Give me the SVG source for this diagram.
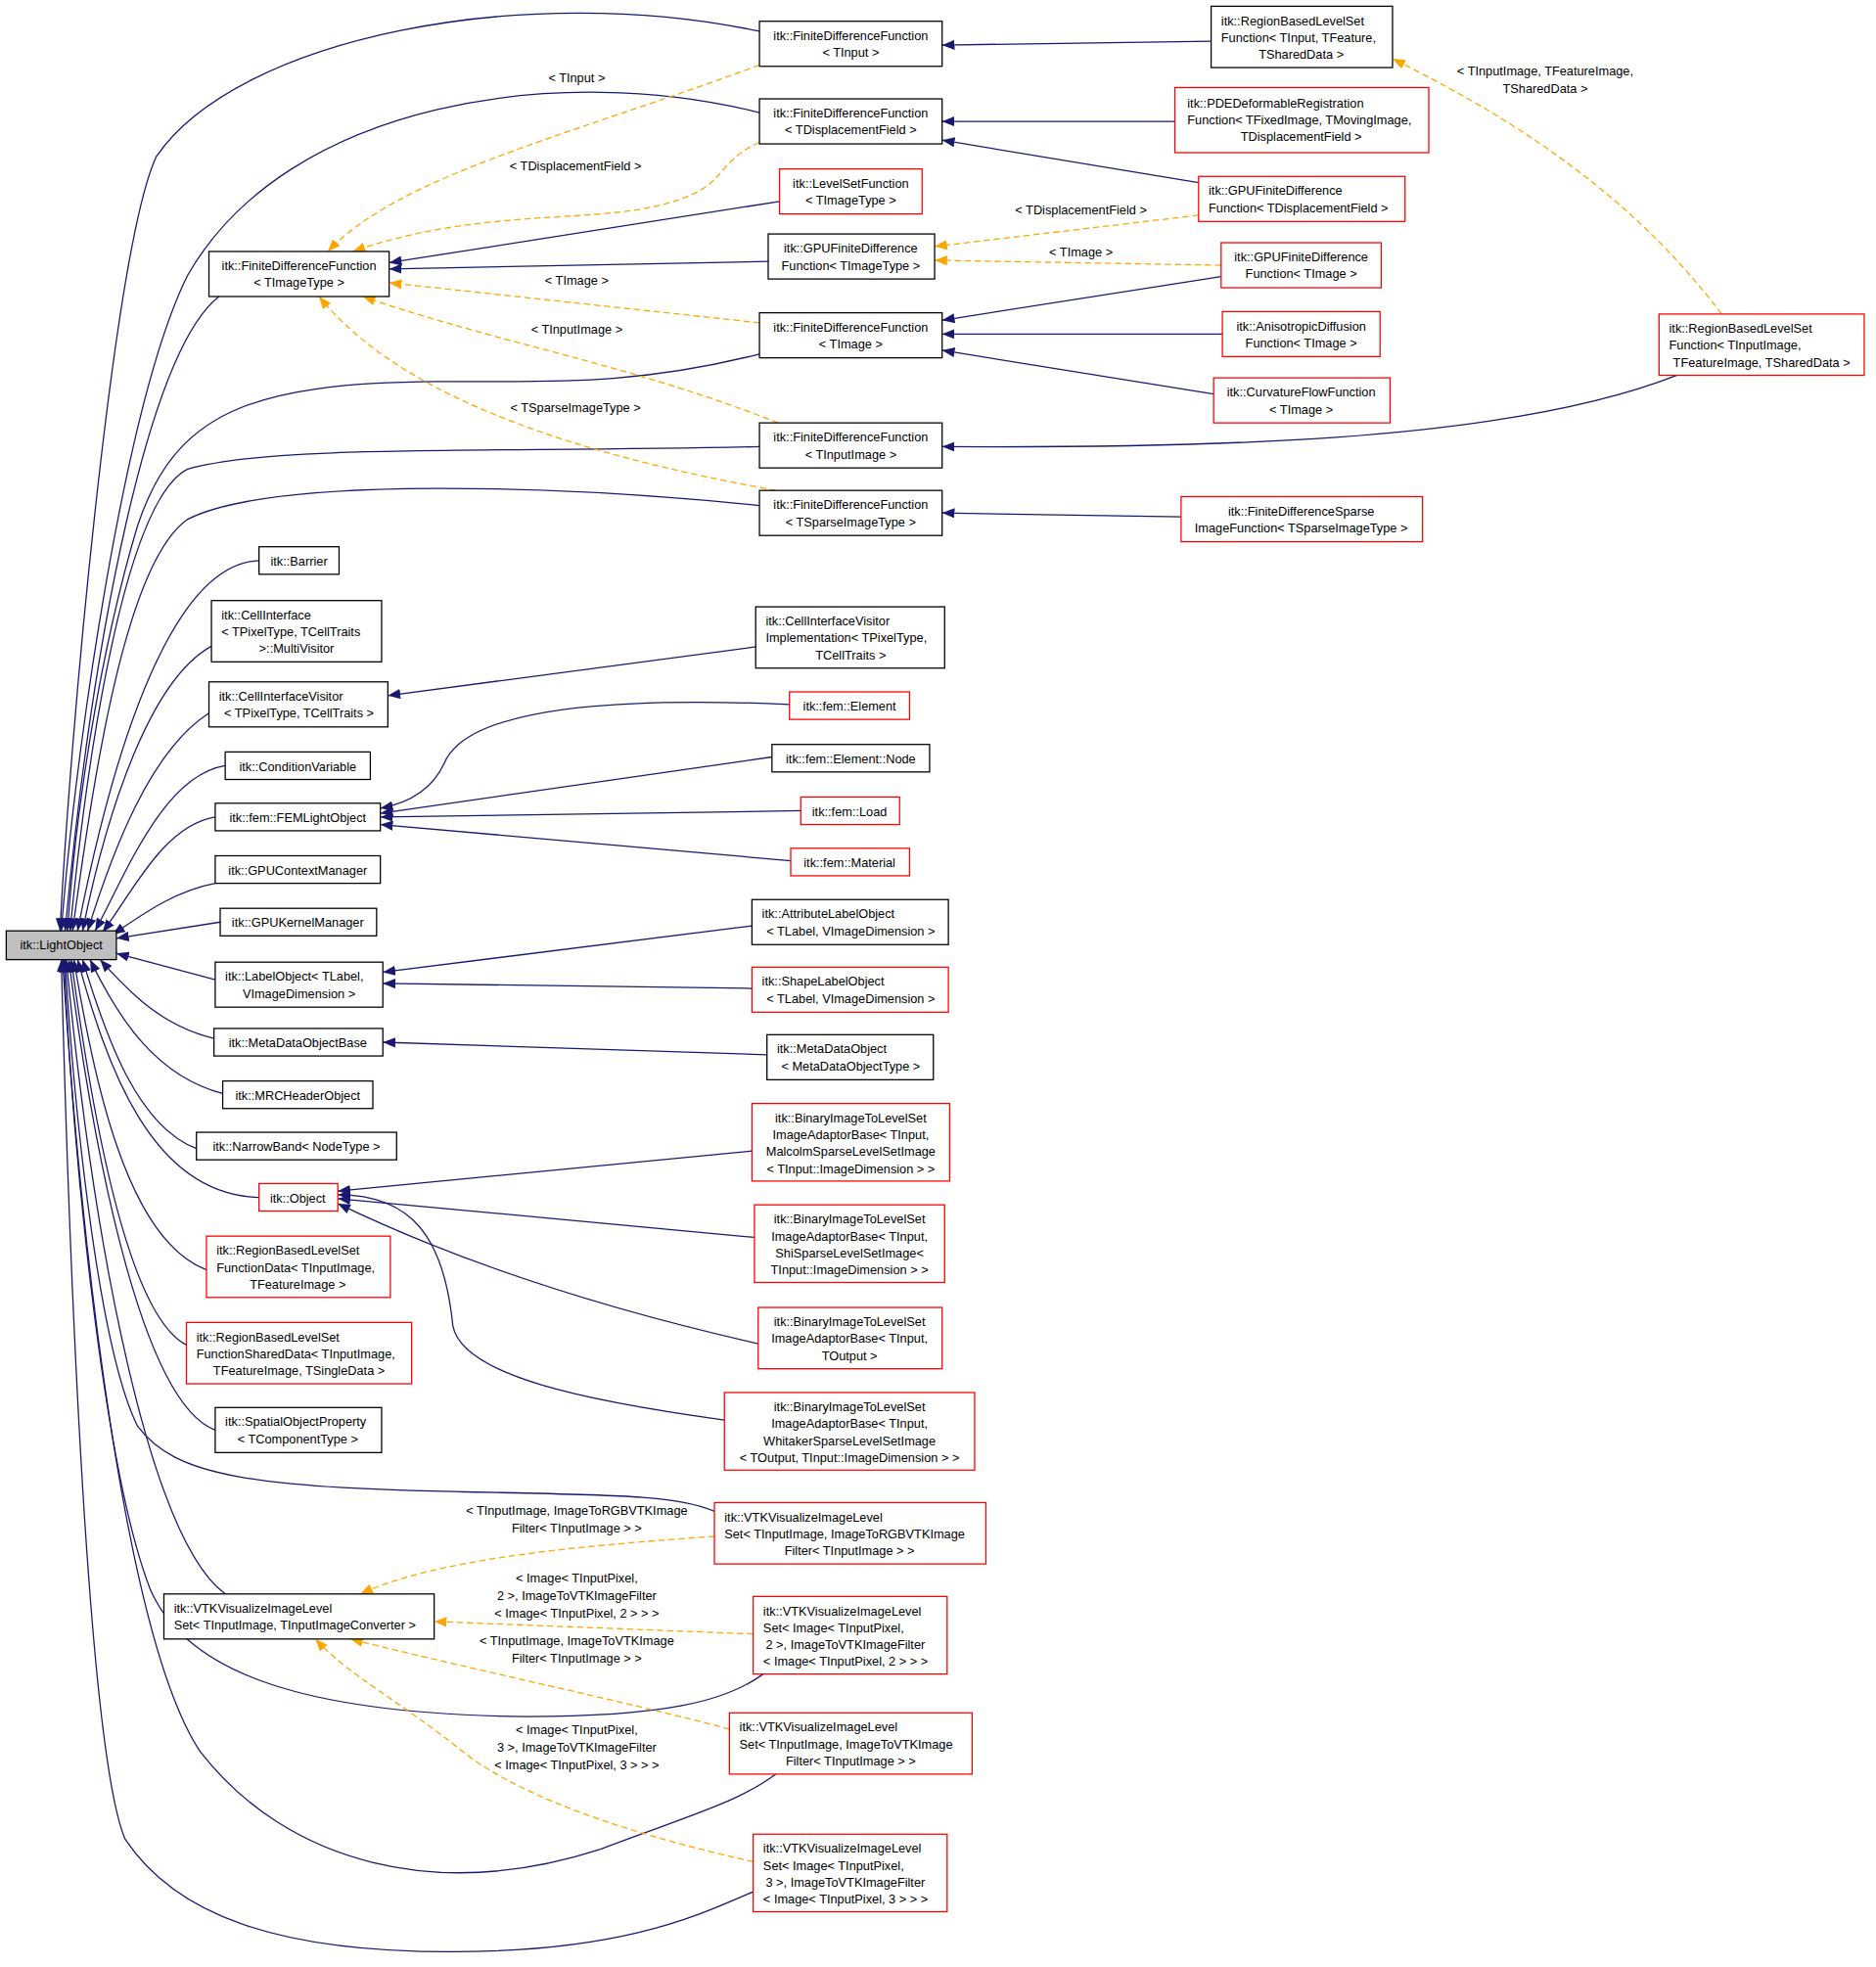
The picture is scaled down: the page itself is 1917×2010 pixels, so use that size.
<svg xmlns="http://www.w3.org/2000/svg" width="1917" height="2010" viewBox="0 0 1917 2010">
<style>
text{font-family:"Liberation Sans",Arial,sans-serif;font-size:10px;fill:#000}
.b{fill:#fff;stroke:#000;stroke-width:1}
.r{fill:#fff;stroke:#ff0000;stroke-width:1}
.g{fill:#bfbfbf;stroke:#000;stroke-width:1}
.e{fill:none;stroke:#191970;stroke-width:1}
.o{fill:none;stroke:#ffa500;stroke-width:1;stroke-dasharray:5,3}
.m{text-anchor:middle}
</style>
<defs>
<marker id="ab" viewBox="0 0 10 8" refX="10" refY="4" markerWidth="10" markerHeight="8" orient="auto" markerUnits="userSpaceOnUse"><path d="M0,0L10,4L0,8z" fill="#191970"/></marker>
<marker id="ao" viewBox="0 0 10 8" refX="10" refY="4" markerWidth="10" markerHeight="8" orient="auto" markerUnits="userSpaceOnUse"><path d="M0,0L10,4L0,8z" fill="#ffa500"/></marker>
</defs>
<rect width="1917" height="2010" fill="#fff"/>
<g transform="scale(1.2785)">
<g id="connectors">
<g marker-end="url(#ab)">
<path class="e" d="M607,25 C420,-15 190,30 125,125 C90,200 55,600 48,744"/>
<path class="e" d="M607,90 C450,50 230,80 150,220 C100,320 60,600 49,744"/>
<path class="e" d="M175,237 C120,280 75,500 52,744"/>
<path class="e" d="M607,283 C500,310 430,304 350,305 C200,306 140,330 110,420 C80,520 60,650 54,744"/>
<path class="e" d="M607,357 C400,362 220,355 150,375 C100,400 70,600 56,744"/>
<path class="e" d="M607,404 C450,388 220,380 150,415 C100,450 75,620 58,744"/>
<path class="e" d="M207,448 C150,450 100,550 62,744"/>
<path class="e" d="M172,515 C120,540 85,650 66,744"/>
<path class="e" d="M167,570 C120,600 90,680 70,744"/>
<path class="e" d="M180,612 C130,620 100,700 76,744"/>
<path class="e" d="M172,653 C130,660 105,715 82,745"/>
<path class="e" d="M172,706 C140,712 115,730 90,747"/>
<path class="e" d="M176,737 L93,750"/>
<path class="e" d="M172,783 L93,762"/>
<path class="e" d="M171,830 C130,820 105,795 80,767"/>
<path class="e" d="M178,874 C125,860 95,815 72,767"/>
<path class="e" d="M157,918 C110,900 85,830 66,767"/>
<path class="e" d="M207,957 C120,955 85,850 62,767"/>
<path class="e" d="M165,1015 C100,990 75,860 59,767"/>
<path class="e" d="M149,1075 C100,1050 72,880 57,767"/>
<path class="e" d="M172,1143 C110,1120 72,900 55,767"/>
<path class="e" d="M180,1274 C120,1230 75,1000 53,767"/>
<path class="e" d="M571,1208 C545,1196 500,1195 400,1193 C200,1190 140,1180 110,1140 C80,1080 60,900 52,767"/>
<path class="e" d="M610,1338 C580,1360 530,1372 420,1372 C250,1370 150,1340 120,1270 C85,1180 60,950 51,767"/>
<path class="e" d="M620,1418 C590,1440 560,1448 480,1478 C350,1520 230,1490 160,1400 C100,1310 65,1000 50,767"/>
<path class="e" d="M602,1512 C560,1530 500,1560 360,1560 C220,1560 140,1530 100,1470 C70,1400 55,1000 49,767"/>
<path class="e" d="M968,33 L753,36"/>
<path class="e" d="M939,97 L753,97"/>
<path class="e" d="M958,146 L753,112"/>
<path class="e" d="M623,161 L311,210"/>
<path class="e" d="M614,209 L311,215"/>
<path class="e" d="M976,221 L753,256"/>
<path class="e" d="M977,267 L753,267"/>
<path class="e" d="M970,315 L753,280"/>
<path class="e" d="M1340,300 C1200,355 950,358 753,357"/>
<path class="e" d="M944,413 L753,410"/>
<path class="e" d="M604,517 L310,556"/>
<path class="e" d="M631,563 C450,555 370,575 355,610 C345,632 325,642 304,646"/>
<path class="e" d="M617,605 L304,650"/>
<path class="e" d="M640,648 L304,653"/>
<path class="e" d="M632,688 L304,659"/>
<path class="e" d="M601,740 L306,777"/>
<path class="e" d="M601,790 L306,786"/>
<path class="e" d="M613,843 L306,833"/>
<path class="e" d="M601,920 L270,952"/>
<path class="e" d="M603,989 L270,958"/>
<path class="e" d="M606,1074 C500,1050 380,1015 270,962"/>
<path class="e" d="M579,1135 C470,1120 370,1100 362,1060 C355,990 330,955 270,955"/>
</g>
<g marker-end="url(#ao)">
<path class="o" d="M607,52 C450,110 320,140 262,201"/>
<path class="o" d="M607,114 C580,125 578,142 560,152 C500,185 400,160 282,201"/>
<path class="o" d="M607,258 L311,226"/>
<path class="o" d="M622,338 C500,290 400,275 290,237"/>
<path class="o" d="M620,392 C500,370 330,330 255,237"/>
<path class="o" d="M958,172 L747,197"/>
<path class="o" d="M976,212 L747,208"/>
<path class="o" d="M1376,251 C1300,150 1200,90 1113,47"/>
<path class="o" d="M571,1228 C470,1235 350,1245 288,1274"/>
<path class="o" d="M602,1306 L347,1296"/>
<path class="o" d="M583,1382 C500,1360 380,1335 280,1310"/>
<path class="o" d="M602,1488 C520,1470 420,1440 370,1400 C320,1360 280,1340 252,1310"/>
</g>
<text class="m" x="461" y="66">&lt; TInput &gt;</text>
<text class="m" x="460" y="136">&lt; TDisplacementField &gt;</text>
<text class="m" x="461" y="228">&lt; TImage &gt;</text>
<text class="m" x="461" y="267">&lt; TInputImage &gt;</text>
<text class="m" x="460" y="329">&lt; TSparseImageType &gt;</text>
<text class="m" x="864" y="171">&lt; TDisplacementField &gt;</text>
<text class="m" x="864" y="205">&lt; TImage &gt;</text>
<text class="m" x="1235" y="60">&lt; TInputImage, TFeatureImage,</text>
<text class="m" x="1235" y="74">TSharedData &gt;</text>
<text class="m" x="461" y="1211">&lt; TInputImage, ImageToRGBVTKImage</text>
<text class="m" x="461" y="1225">Filter&lt; TInputImage &gt; &gt;</text>
<text class="m" x="461" y="1265">&lt; Image&lt; TInputPixel,</text>
<text class="m" x="461" y="1279">2 &gt;, ImageToVTKImageFilter</text>
<text class="m" x="461" y="1293">&lt; Image&lt; TInputPixel, 2 &gt; &gt; &gt;</text>
<text class="m" x="461" y="1315">&lt; TInputImage, ImageToVTKImage</text>
<text class="m" x="461" y="1329">Filter&lt; TInputImage &gt; &gt;</text>
<text class="m" x="461" y="1386">&lt; Image&lt; TInputPixel,</text>
<text class="m" x="461" y="1400">3 &gt;, ImageToVTKImageFilter</text>
<text class="m" x="461" y="1414">&lt; Image&lt; TInputPixel, 3 &gt; &gt; &gt;</text>
</g>
<g id="LightObject"><rect class="g" x="5" y="744" width="88" height="23"/><text class="m" x="49" y="759">itk::LightObject</text></g>
<g id="FDF_TImageType"><rect class="b" x="167" y="201" width="144" height="36"/><text class="m" x="239" y="216">itk::FiniteDifferenceFunction</text><text class="m" x="239" y="229.5">&lt; TImageType &gt;</text></g>
<g id="FDF_TInput"><rect class="b" x="607" y="17" width="146" height="36"/><text class="m" x="680" y="32">itk::FiniteDifferenceFunction</text><text class="m" x="680" y="45.5">&lt; TInput &gt;</text></g>
<g id="FDF_TDisp"><rect class="b" x="607" y="79" width="146" height="36"/><text class="m" x="680" y="94">itk::FiniteDifferenceFunction</text><text class="m" x="680" y="107.5">&lt; TDisplacementField &gt;</text></g>
<g id="LevelSetFunction"><rect class="r" x="623" y="135" width="114" height="36"/><text class="m" x="680" y="150">itk::LevelSetFunction</text><text class="m" x="680" y="163.5">&lt; TImageType &gt;</text></g>
<g id="GPUFD_TImageType"><rect class="b" x="614" y="187" width="133" height="36"/><text class="m" x="680" y="202">itk::GPUFiniteDifference</text><text class="m" x="680" y="215.5">Function&lt; TImageType &gt;</text></g>
<g id="FDF_TImage"><rect class="b" x="607" y="250" width="146" height="36"/><text class="m" x="680" y="265">itk::FiniteDifferenceFunction</text><text class="m" x="680" y="278.5">&lt; TImage &gt;</text></g>
<g id="FDF_TInputImage"><rect class="b" x="607" y="338" width="146" height="36"/><text class="m" x="680" y="353">itk::FiniteDifferenceFunction</text><text class="m" x="680" y="366.5">&lt; TInputImage &gt;</text></g>
<g id="FDF_TSparse"><rect class="b" x="607" y="392" width="146" height="36"/><text class="m" x="680" y="407">itk::FiniteDifferenceFunction</text><text class="m" x="680" y="420.5">&lt; TSparseImageType &gt;</text></g>
<g id="RBLSF_TInput"><rect class="b" x="968" y="5" width="145" height="49"/><text x="976" y="20">itk::RegionBasedLevelSet</text><text x="976" y="33.5">Function&lt; TInput, TFeature,</text><text class="m" x="1040" y="47">TSharedData &gt;</text></g>
<g id="PDEDeformable"><rect class="r" x="939" y="70" width="203" height="52"/><text x="949" y="86">itk::PDEDeformableRegistration</text><text x="949" y="99.5">Function&lt; TFixedImage, TMovingImage,</text><text class="m" x="1040" y="113">TDisplacementField &gt;</text></g>
<g id="GPUFD_TDisp"><rect class="r" x="958" y="141" width="165" height="36"/><text x="966" y="156">itk::GPUFiniteDifference</text><text x="966" y="169.5">Function&lt; TDisplacementField &gt;</text></g>
<g id="GPUFD_TImage"><rect class="r" x="976" y="194" width="128" height="36"/><text class="m" x="1040" y="209">itk::GPUFiniteDifference</text><text class="m" x="1040" y="222.5">Function&lt; TImage &gt;</text></g>
<g id="Anisotropic"><rect class="r" x="977" y="249" width="126" height="36"/><text class="m" x="1040" y="264">itk::AnisotropicDiffusion</text><text class="m" x="1040" y="277.5">Function&lt; TImage &gt;</text></g>
<g id="CurvatureFlow"><rect class="r" x="970" y="302" width="141" height="36"/><text class="m" x="1040" y="317">itk::CurvatureFlowFunction</text><text class="m" x="1040" y="330.5">&lt; TImage &gt;</text></g>
<g id="RBLSF_TInputImage"><rect class="r" x="1326" y="251" width="164" height="49"/><text x="1334" y="266">itk::RegionBasedLevelSet</text><text x="1334" y="279.5">Function&lt; TInputImage,</text><text class="m" x="1408" y="293">TFeatureImage, TSharedData &gt;</text></g>
<g id="FDSparse"><rect class="r" x="944" y="397" width="193" height="36"/><text class="m" x="1040" y="412">itk::FiniteDifferenceSparse</text><text class="m" x="1040" y="425.5">ImageFunction&lt; TSparseImageType &gt;</text></g>
<g id="Barrier"><rect class="b" x="207" y="437" width="64" height="22"/><text class="m" x="239" y="452">itk::Barrier</text></g>
<g id="MultiVisitor"><rect class="b" x="169" y="480" width="136" height="49"/><text x="177" y="495">itk::CellInterface</text><text x="177" y="508.5">&lt; TPixelType, TCellTraits</text><text class="m" x="237" y="522">&gt;::MultiVisitor</text></g>
<g id="CellInterfaceVisitor"><rect class="b" x="167" y="545" width="143" height="36"/><text x="175" y="560">itk::CellInterfaceVisitor</text><text class="m" x="239" y="573.5">&lt; TPixelType, TCellTraits &gt;</text></g>
<g id="CIVImpl"><rect class="b" x="604" y="485" width="151" height="49"/><text x="612" y="500">itk::CellInterfaceVisitor</text><text x="612" y="513.5">Implementation&lt; TPixelType,</text><text class="m" x="680" y="527">TCellTraits &gt;</text></g>
<g id="ConditionVariable"><rect class="b" x="180" y="601" width="116" height="22"/><text class="m" x="238" y="616">itk::ConditionVariable</text></g>
<g id="Element"><rect class="r" x="631" y="553" width="96" height="22"/><text class="m" x="679" y="568">itk::fem::Element</text></g>
<g id="ElementNode"><rect class="b" x="617" y="595" width="126" height="22"/><text class="m" x="680" y="610">itk::fem::Element::Node</text></g>
<g id="FEMLightObject"><rect class="b" x="172" y="642" width="132" height="22"/><text class="m" x="238" y="657">itk::fem::FEMLightObject</text></g>
<g id="Load"><rect class="r" x="640" y="637" width="79" height="22"/><text class="m" x="679" y="652">itk::fem::Load</text></g>
<g id="Material"><rect class="r" x="632" y="678" width="95" height="22"/><text class="m" x="679" y="693">itk::fem::Material</text></g>
<g id="GPUContextManager"><rect class="b" x="172" y="684" width="132" height="22"/><text class="m" x="238" y="699">itk::GPUContextManager</text></g>
<g id="GPUKernelManager"><rect class="b" x="176" y="726" width="125" height="22"/><text class="m" x="238" y="741">itk::GPUKernelManager</text></g>
<g id="AttributeLabelObject"><rect class="b" x="601" y="719" width="157" height="36"/><text x="609" y="734">itk::AttributeLabelObject</text><text class="m" x="680" y="747.5">&lt; TLabel, VImageDimension &gt;</text></g>
<g id="LabelObject"><rect class="b" x="172" y="769" width="134" height="36"/><text x="180" y="784">itk::LabelObject&lt; TLabel,</text><text class="m" x="239" y="797.5">VImageDimension &gt;</text></g>
<g id="ShapeLabelObject"><rect class="r" x="601" y="773" width="157" height="36"/><text x="609" y="788">itk::ShapeLabelObject</text><text class="m" x="680" y="801.5">&lt; TLabel, VImageDimension &gt;</text></g>
<g id="MetaDataObjectBase"><rect class="b" x="171" y="822" width="135" height="22"/><text class="m" x="238" y="837">itk::MetaDataObjectBase</text></g>
<g id="MetaDataObject"><rect class="b" x="613" y="827" width="133" height="36"/><text x="621" y="842">itk::MetaDataObject</text><text class="m" x="680" y="855.5">&lt; MetaDataObjectType &gt;</text></g>
<g id="MRCHeaderObject"><rect class="b" x="178" y="864" width="120" height="22"/><text class="m" x="238" y="879">itk::MRCHeaderObject</text></g>
<g id="NarrowBand"><rect class="b" x="157" y="905" width="160" height="22"/><text class="m" x="237" y="920">itk::NarrowBand&lt; NodeType &gt;</text></g>
<g id="Object"><rect class="r" x="207" y="946" width="63" height="22"/><text class="m" x="238" y="961">itk::Object</text></g>
<g id="BinMalcolm"><rect class="r" x="601" y="882" width="158" height="62"/><text class="m" x="680" y="897">itk::BinaryImageToLevelSet</text><text class="m" x="680" y="910.5">ImageAdaptorBase&lt; TInput,</text><text class="m" x="680" y="924">MalcolmSparseLevelSetImage</text><text class="m" x="680" y="937.5">&lt; TInput::ImageDimension &gt; &gt;</text></g>
<g id="BinShi"><rect class="r" x="603" y="963" width="152" height="62"/><text class="m" x="679" y="978">itk::BinaryImageToLevelSet</text><text class="m" x="679" y="991.5">ImageAdaptorBase&lt; TInput,</text><text class="m" x="679" y="1005">ShiSparseLevelSetImage&lt;</text><text class="m" x="679" y="1018.5">TInput::ImageDimension &gt; &gt;</text></g>
<g id="BinTOutput"><rect class="r" x="606" y="1045" width="147" height="49"/><text class="m" x="679" y="1060">itk::BinaryImageToLevelSet</text><text class="m" x="679" y="1073.5">ImageAdaptorBase&lt; TInput,</text><text class="m" x="679" y="1087">TOutput &gt;</text></g>
<g id="BinWhitaker"><rect class="r" x="579" y="1113" width="200" height="62"/><text class="m" x="679" y="1128">itk::BinaryImageToLevelSet</text><text class="m" x="679" y="1141.5">ImageAdaptorBase&lt; TInput,</text><text class="m" x="679" y="1155">WhitakerSparseLevelSetImage</text><text class="m" x="679" y="1168.5">&lt; TOutput, TInput::ImageDimension &gt; &gt;</text></g>
<g id="RBLSFData"><rect class="r" x="165" y="988" width="147" height="49"/><text x="173" y="1003">itk::RegionBasedLevelSet</text><text x="173" y="1016.5">FunctionData&lt; TInputImage,</text><text class="m" x="238" y="1030">TFeatureImage &gt;</text></g>
<g id="RBLSFShared"><rect class="r" x="149" y="1057" width="180" height="49"/><text x="157" y="1072">itk::RegionBasedLevelSet</text><text x="157" y="1085.5">FunctionSharedData&lt; TInputImage,</text><text class="m" x="239" y="1099">TFeatureImage, TSingleData &gt;</text></g>
<g id="SpatialObjectProperty"><rect class="b" x="172" y="1125" width="133" height="36"/><text x="180" y="1140">itk::SpatialObjectProperty</text><text class="m" x="238" y="1153.5">&lt; TComponentType &gt;</text></g>
<g id="VTKMain"><rect class="b" x="131" y="1274" width="216" height="36"/><text x="139" y="1289">itk::VTKVisualizeImageLevel</text><text x="139" y="1302.5">Set&lt; TInputImage, TInputImageConverter &gt;</text></g>
<g id="VTKRGB"><rect class="r" x="571" y="1201" width="217" height="49"/><text x="579" y="1216">itk::VTKVisualizeImageLevel</text><text x="579" y="1229.5">Set&lt; TInputImage, ImageToRGBVTKImage</text><text class="m" x="679" y="1243">Filter&lt; TInputImage &gt; &gt;</text></g>
<g id="VTKImage2"><rect class="r" x="602" y="1276" width="155" height="62"/><text x="610" y="1291">itk::VTKVisualizeImageLevel</text><text x="610" y="1304.5">Set&lt; Image&lt; TInputPixel,</text><text x="612" y="1318">2 &gt;, ImageToVTKImageFilter</text><text x="610" y="1331.5">&lt; Image&lt; TInputPixel, 2 &gt; &gt; &gt;</text></g>
<g id="VTKInputImage"><rect class="r" x="583" y="1369" width="194" height="49"/><text x="591" y="1384">itk::VTKVisualizeImageLevel</text><text x="591" y="1397.5">Set&lt; TInputImage, ImageToVTKImage</text><text class="m" x="680" y="1411">Filter&lt; TInputImage &gt; &gt;</text></g>
<g id="VTKImage3"><rect class="r" x="602" y="1466" width="155" height="62"/><text x="610" y="1481">itk::VTKVisualizeImageLevel</text><text x="610" y="1494.5">Set&lt; Image&lt; TInputPixel,</text><text x="612" y="1508">3 &gt;, ImageToVTKImageFilter</text><text x="610" y="1521.5">&lt; Image&lt; TInputPixel, 3 &gt; &gt; &gt;</text></g>
</g>
</svg>
